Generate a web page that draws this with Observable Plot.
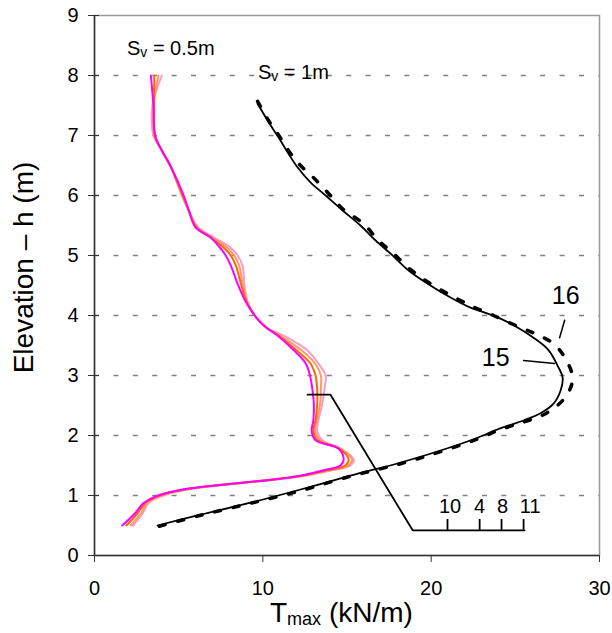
<!DOCTYPE html>
<html><head><meta charset="utf-8">
<script src="https://cdn.jsdelivr.net/npm/d3@7"></script>
<script src="https://cdn.jsdelivr.net/npm/@observablehq/plot@0.6"></script>
<style>
html,body{margin:0;padding:0;background:#fff;overflow:hidden;}
svg{font-family:"Liberation Sans",Arial,sans-serif;}
</style>
</head><body><div id="chart"></div>
<script>
// ---- axes ----
const xTicks = [0, 10, 20, 30];
const yTicks = [0, 1, 2, 3, 4, 5, 6, 7, 8, 9];
const gridLevels = [1, 2, 3, 4, 5, 6, 7, 8];

// ---- Sv = 0.5 m family (four runs) ----
const sv05Elevation = [8.0, 7.5, 7.0, 6.75, 6.5, 6.0, 5.75, 5.47, 5.3, 5.15, 5.0, 4.83, 4.53, 4.22, 3.97, 3.8, 3.67, 3.42, 3.2, 3.0, 2.8, 2.53, 2.25, 2.08, 1.92, 1.78, 1.6, 1.5, 1.42, 1.33, 1.28, 1.2, 1.12, 1.03, 0.97, 0.87, 0.7, 0.5];
const sv05Magenta = [3.35, 3.5, 3.6, 4.0, 4.5, 5.3, 5.6, 6.0, 6.9, 7.4, 7.8, 8.1, 8.5, 9.0, 9.6, 10.2, 10.85, 11.84, 12.55, 12.8, 12.93, 13.03, 13.0, 12.9, 13.13, 14.5, 14.8, 14.6, 13.6, 12.2, 11.0, 8.3, 5.7, 4.1, 3.5, 2.9, 2.4, 1.65];
const sv05Orange  = [3.55, 3.55, 3.6, 4.0, 4.5, 5.25, 5.6, 6.05, 6.9, 7.6, 8.1, 8.4, 8.7, 9.05, 9.6, 10.2, 10.9, 12.0, 12.83, 13.13, 13.22, 13.23, 13.13, 13.0, 13.25, 14.55, 15.1, 14.9, 13.8, 12.3, 11.0, 8.3, 5.8, 4.2, 3.6, 3.0, 2.55, 1.9];
const sv05Salmon  = [3.8, 3.5, 3.55, 4.0, 4.5, 5.2, 5.6, 6.1, 7.0, 7.8, 8.3, 8.6, 8.8, 9.1, 9.6, 10.2, 11.0, 12.3, 13.1, 13.45, 13.45, 13.4, 13.2, 13.1, 13.4, 14.6, 15.3, 15.1, 14.0, 12.4, 11.1, 8.4, 5.9, 4.3, 3.7, 3.1, 2.75, 2.15];
const sv05Pink    = [4.0, 3.45, 3.5, 4.0, 4.5, 5.2, 5.6, 6.15, 7.1, 8.0, 8.5, 8.8, 8.9, 9.1, 9.6, 10.2, 11.2, 12.64, 13.3, 13.73, 13.67, 13.53, 13.3, 13.23, 13.53, 14.65, 15.4, 15.2, 14.1, 12.5, 11.2, 8.5, 6.0, 4.4, 3.8, 3.2, 2.85, 2.3];

// ---- Sv = 1 m : runs 15 (solid) and 16 (dashed) ----
const run15T = [9.69, 10.46, 10.93, 11.47, 12.06, 12.83, 13.73, 14.74, 15.8, 16.7, 17.59, 18.66, 19.79, 21.15, 22.34, 23.95, 25.13, 26.08, 26.98, 27.57, 27.81, 27.69, 27.27, 26.5, 25.49, 24.1, 22.64, 20.56, 18.2, 15.2, 12.24, 9.27, 6.3, 3.74];
const run15H = [7.53, 7.17, 6.97, 6.72, 6.47, 6.22, 6.0, 5.75, 5.5, 5.25, 5.03, 4.75, 4.53, 4.3, 4.13, 3.97, 3.8, 3.63, 3.42, 3.13, 2.97, 2.75, 2.53, 2.37, 2.25, 2.12, 1.95, 1.75, 1.55, 1.33, 1.1, 0.88, 0.68, 0.5];
const run16T = [9.69, 10.34, 11.0, 11.65, 12.24, 13.0, 13.85, 14.74, 15.98, 16.87, 17.7, 18.72, 19.85, 21.27, 22.46, 23.7, 25.13, 26.3, 27.27, 27.98, 28.4, 28.16, 27.5, 26.56, 25.55, 24.12, 22.64, 20.56, 18.18, 15.2, 12.24, 9.27, 6.3, 3.74];
const run16H = [7.57, 7.25, 6.98, 6.7, 6.5, 6.3, 6.05, 5.78, 5.53, 5.25, 5.05, 4.78, 4.55, 4.32, 4.15, 4.0, 3.82, 3.68, 3.53, 3.28, 2.97, 2.72, 2.5, 2.33, 2.23, 2.1, 1.93, 1.73, 1.53, 1.32, 1.08, 0.87, 0.67, 0.48];

// ---- annotations ----
const bracketT = [12.66, 14.02, 18.9, 25.55];
const bracketH = [2.68, 2.68, 0.42, 0.42];
const bracketTickT = [20.97, 22.88, 24.18, 25.49];
const bracketTickTop = 0.6;
const bracketLabels = ["10", "4", "8", "11"];
const bracketLabelT = [21.12, 22.88, 24.24, 25.88];
const bracketLabelH = 0.807;
const runLabels = ["16", "15"];
const runLabelT = [27.99, 23.83];
const runLabelH = [4.33, 3.3];
const leader16T = [27.93, 27.63];
const leader16H = [3.92, 3.63];
const leader15T = [25.49, 27.33];
const leader15H = [3.25, 3.2];
const spacingLabels = ["0.5m", "1m"];
const spacingLabelT = [1.96, 9.74];
const spacingLabelH = [8.33, 7.93];

const font = "Liberation Sans, Arial, sans-serif";

const chart = Plot.plot({
  width: 612, height: 633,
  marginLeft: 94, marginRight: 13, marginTop: 15, marginBottom: 78,
  x: {domain: [0, 30]},
  y: {domain: [0, 9]},
  style: {fontFamily: font, fontSize: "20px", background: "#fff", color: "#000"},
  marks: [
    Plot.ruleY(gridLevels, {stroke: "#808080", strokeWidth: 1.5, strokeDasharray: "5,14.4"}),
    Plot.frame({stroke: "#999", strokeWidth: 1.5}),
    Plot.ruleX([0], {stroke: "#333", strokeWidth: 1.5}),
    Plot.ruleY([0], {stroke: "#333", strokeWidth: 1.5}),
    Plot.axisY({ticks: yTicks, tickSize: 11, dx: 5, tickPadding: 10, label: null, fontSize: 20, stroke: "#333", tickFormat: d => String(d)}),
    Plot.axisX({ticks: xTicks, tickSize: 7, tickPadding: 18, label: null, fontSize: 20, stroke: "#333", tickFormat: d => String(d)}),
    // Sv = 0.5 m family
    Plot.line(sv05Elevation, {x: sv05Pink, y: sv05Elevation, stroke: "#FF99CC", strokeWidth: 2, curve: "catmull-rom"}),
    Plot.line(sv05Elevation, {x: sv05Salmon, y: sv05Elevation, stroke: "#FF9966", strokeWidth: 2, curve: "catmull-rom"}),
    Plot.line(sv05Elevation, {x: sv05Orange, y: sv05Elevation, stroke: "#FF6600", strokeWidth: 2, curve: "catmull-rom"}),
    Plot.line(sv05Elevation, {x: sv05Magenta, y: sv05Elevation, stroke: "#FF00FF", strokeWidth: 2, curve: "catmull-rom"}),
    // Sv = 1 m
    Plot.line(run16T, {x: run16T, y: run16H, stroke: "#000", strokeWidth: 3.5, strokeDasharray: "6,13", curve: "catmull-rom"}),
    Plot.line(run15T, {x: run15T, y: run15H, stroke: "#000", strokeWidth: 1.8, curve: "catmull-rom"}),
    // bracket annotation
    Plot.line(bracketT, {x: bracketT, y: bracketH, stroke: "#000", strokeWidth: 1.8}),
    Plot.ruleX(bracketTickT, {y1: bracketH[3], y2: bracketTickTop, stroke: "#000", strokeWidth: 1.8}),
    Plot.text(bracketLabels, {x: bracketLabelT, y: () => bracketLabelH, text: d => d, fontSize: 20, fill: "#000"}),
    // run labels
    Plot.line(leader16T, {x: leader16T, y: leader16H, stroke: "#000", strokeWidth: 1.5}),
    Plot.line(leader15T, {x: leader15T, y: leader15H, stroke: "#000", strokeWidth: 1.5}),
    Plot.text(runLabels, {x: runLabelT, y: runLabelH, text: d => d, fontSize: 25, fill: "#000"})
  ]
});

document.getElementById("chart").appendChild(chart);

// Text with subscripts, positioned through Plot's own scales
const sx = chart.scale("x"), sy = chart.scale("y");
const svg = d3.select(chart);
spacingLabels.forEach((lab, i) => {
  const t = svg.append("text")
    .attr("x", sx.apply(spacingLabelT[i]))
    .attr("y", sy.apply(spacingLabelH[i]))
    .attr("text-anchor", "start")
    .attr("font-family", font).attr("font-size", 20).attr("fill", "#000");
  t.append("tspan").text("S");
  t.append("tspan").attr("font-size", 14).attr("dy", 2).text("v");
  t.append("tspan").attr("dy", -2).text(" = " + lab);
});

// axis titles
svg.append("text")
  .attr("transform", "translate(33,267.5) rotate(-90)")
  .attr("text-anchor", "middle")
  .attr("font-family", font).attr("font-size", 28).attr("fill", "#000")
  .text("Elevation – h (m)");
const xt = svg.append("text")
  .attr("x", 270).attr("y", 622)
  .attr("text-anchor", "start")
  .attr("font-family", font).attr("font-size", 28).attr("fill", "#000");
xt.append("tspan").text("T");
xt.append("tspan").attr("font-size", 18).attr("dy", 3).text("max");
xt.append("tspan").attr("dy", -3).text(" (kN/m)");
</script>
</body></html>
